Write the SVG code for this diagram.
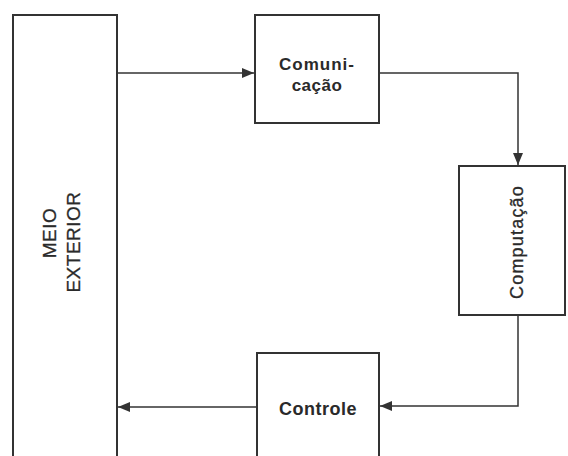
<svg xmlns="http://www.w3.org/2000/svg" width="568" height="456" viewBox="0 0 568 456">
<style>
.box{fill:#fff;stroke:#333;stroke-width:2}
.conn{fill:none;stroke:#333;stroke-width:1.5}
.t{font-family:"Liberation Sans",Arial,sans-serif;fill:#2a2a2a}
.m{stroke:#2a2a2a;stroke-width:0.3}
.b{font-weight:bold}
</style>
<defs>
<marker id="ah" viewBox="0 0 12 10" refX="12" refY="5" markerWidth="12" markerHeight="10" markerUnits="userSpaceOnUse" orient="auto">
<path d="M0,0 L12,5 L0,10 Z" fill="#333"/>
</marker>
</defs>
<rect width="568" height="456" fill="#fff"/>
<g id="connectors">
<path class="conn" d="M117,73 H254" marker-end="url(#ah)"/>
<path class="conn" d="M379,73 H518 V165" marker-end="url(#ah)"/>
<path class="conn" d="M518,315 V406 H380" marker-end="url(#ah)"/>
<path class="conn" d="M257,407 H118" marker-end="url(#ah)"/>
</g>
<g id="meio-exterior">
<rect class="box" x="13" y="15" width="104" height="460"/>
<text class="t m" font-size="19" letter-spacing="0.5" text-anchor="middle" transform="translate(56,233) rotate(-90)">MEIO</text>
<text class="t m" font-size="19" letter-spacing="0.5" text-anchor="middle" transform="translate(80,242) rotate(-90)">EXTERIOR</text>
</g>
<g id="comunicacao">
<rect class="box" x="255" y="15" width="124" height="108"/>
<text class="t b" font-size="17" letter-spacing="1" text-anchor="middle" x="317" y="70">Comuni-</text>
<text class="t b" font-size="17" letter-spacing="0.5" text-anchor="middle" x="317" y="91">cação</text>
</g>
<g id="computacao">
<rect class="box" x="459" y="166" width="106" height="149"/>
<text class="t m" font-size="18" letter-spacing="1.2" text-anchor="middle" transform="translate(523,242) rotate(-90)">Computação</text>
</g>
<g id="controle">
<rect class="box" x="257" y="353" width="122" height="120"/>
<text class="t b" font-size="18" letter-spacing="0.5" text-anchor="middle" x="318" y="415">Controle</text>
</g>
</svg>
